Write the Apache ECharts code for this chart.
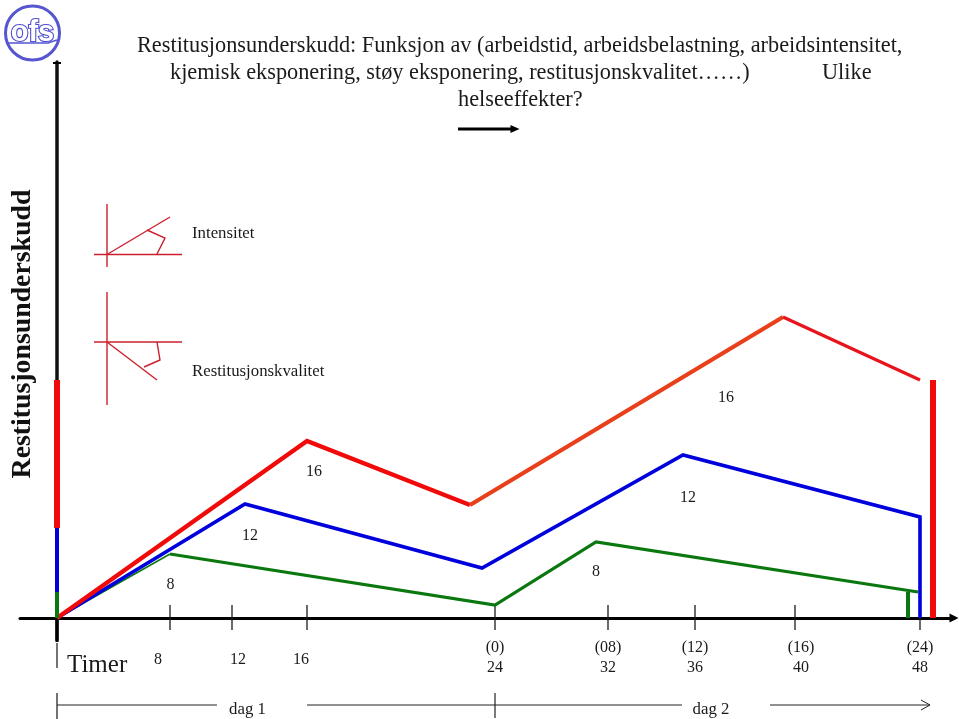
<!DOCTYPE html>
<html>
<head>
<meta charset="utf-8">
<style>html,body{margin:0;padding:0;background:#fff}#c{width:959px;height:719px}</style>
<script src="https://cdn.jsdelivr.net/npm/echarts@6/dist/echarts.min.js"></script>
</head>
<body>
<div id="c"></div>
<script>
// Schematic units: x along the time axis (not linear in hours), y = restitution deficit
const tickX = [113, 175, 250, 438, 551, 638, 738, 863];
const redX1 = [0, 250, 413];      const redY1 = [0, 177, 113];
const orangeX = [413, 726];       const orangeY = [113, 301];
const redX2 = [726, 863];         const redY2 = [301, 238];
const blueX = [0, 188, 425, 626, 863, 863];  const blueY = [0, 114, 50, 163, 101, 0];
const greenX1 = [0, 113];         const greenY1 = [0, 64];
const greenX2 = [113, 438, 539, 861];  const greenY2 = [64, 13, 76, 26];
const greenEndX = [851, 851];     const greenEndY = [26, 0];
const redEndX = [876, 876];       const redEndY = [238, 0];
const axisRedY = [238, 90];
const axisBlueY = [90, 26];
const axisGreenY = [26, 0];

const titleLines = [
  'Restitusjonsunderskudd: Funksjon av (arbeidstid, arbeidsbelastning, arbeidsintensitet,',
  'kjemisk eksponering, støy eksponering, restitusjonskvalitet……)',
  'Ulike',
  'helseeffekter?'
];
const yName = 'Restitusjonsunderskudd';
const xName = 'Timer';
const curveLabels = [[113.5, 35, '8'], [193, 84, '12'], [257, 148, '16'], [539, 48, '8'], [631, 122, '12'], [669, 222, '16']];
const hourLabels = [[101, -40, '8'], [181, -40, '12'], [244, -40, '16'],
  [438, -28, '(0)'], [438, -48, '24'], [551, -28, '(08)'], [551, -48, '32'],
  [638, -28, '(12)'], [638, -48, '36'], [744, -28, '(16)'], [744, -48, '40'],
  [863, -28, '(24)'], [863, -48, '48']];
const dayLabels = [[190.5, -90, 'dag 1'], [654, -90, 'dag 2']];
const iconLabels = [[135, 386, 'Intensitet'], [135, 248, 'Restitusjonskvalitet']];

function line(xs, ys, color, width, z, extra) {
  return Object.assign({
    type: 'line', data: xs.map((x, i) => [x, ys[i]]), showSymbol: false, symbol: 'none',
    clip: false, silent: true, animation: false, z: z || 3,
    lineStyle: { color: color, width: width, cap: 'butt', join: 'miter' }
  }, extra || {});
}
function texts(list, font, align) {
  return {
    type: 'custom', clip: false, silent: true, animation: false, z: 6,
    data: list.map(l => [l[0], l[1]]),
    renderItem: (p, api) => {
      const c = api.coord([api.value(0), api.value(1)]);
      return { type: 'text', x: c[0], y: c[1] + 1.5, style: {
        text: list[p.dataIndex][2], font: font, fill: '#1a1a1a',
        textAlign: align || 'center', textVerticalAlign: 'middle' } };
    }
  };
}
const ICON = '#cc1f2c', INK = '#1a1a1a';
const RED = '#f00a0a', ORANGE = '#e8401a', BLUE = '#0000dc', GREEN = '#0a780f';
const F = '"Liberation Serif", "Times New Roman", serif';

const series = [
  // angle icons
  line([50, 50], [414, 351], ICON, 1.4), line([37, 125], [363.5, 363.5], ICON, 1.4),
  line([50, 113], [363.5, 401], ICON, 1.4), line([90, 108, 100], [388, 380, 364], ICON, 1.4),
  line([50, 50], [326, 213], ICON, 1.4), line([37, 125], [276, 276], ICON, 1.4),
  line([50, 100], [276, 238], ICON, 1.4), line([100, 103, 87], [276, 258, 251], ICON, 1.4),
  // axis extras
  line([-4, 4], [555, 555], '#000', 2), line([0, 0], [0, -24], '#000', 3),
  line([0, 0], [-25, -50], '#444', 1.5),
  // day span lines
  line([0, 0], [-75, -101], '#444', 1.5), line([0, 160], [-87, -87], '#222', 1),
  line([250, 438], [-87, -87], '#222', 1), line([438, 438], [-75, -100], '#222', 1.2),
  line([438, 625], [-87, -87], '#222', 1), line([713, 873], [-87, -87], '#222', 1),
  line([864, 873, 864], [-82, -87, -92], '#222', 1),
  // bold arrow under the heading
  line([401, 458], [489, 489], '#000', 3),
  // axis ticks
  {
    type: 'custom', clip: false, silent: true, animation: false, z: 2,
    data: tickX.map(x => [x]),
    renderItem: (p, api) => {
      const x = api.value(0);
      const a = api.coord([x, 13]), b = api.coord([x, -12]);
      return { type: 'line', shape: { x1: a[0], y1: a[1], x2: b[0], y2: b[1] },
        style: { stroke: INK, lineWidth: 1.3 } };
    }
  },
  // curves
  line(greenX1, greenY1, GREEN, 1.5, 4), line(greenX2, greenY2, GREEN, 3.2, 4),
  line(greenEndX, greenEndY, GREEN, 4, 4),
  line(blueX, blueY, BLUE, 3.6, 5),
  line(redX1, redY1, RED, 4.4, 7), line(orangeX, orangeY, ORANGE, 4.2, 7),
  line(redX2, redY2, '#e8141c', 3.2, 7), line(redEndX, redEndY, RED, 6, 7),
  // coloured bars on the y axis
  line([0, 0], axisRedY, RED, 6, 8), line([0, 0], axisBlueY, BLUE, 4, 8), line([0, 0], axisGreenY, GREEN, 4, 8),
  texts(curveLabels, '16px ' + F), texts(hourLabels, '16px ' + F), texts(dayLabels, '16.8px ' + F),
  texts(iconLabels, '16.8px ' + F, 'left'),
  texts([[10, -46, xName]], '25px ' + F, 'left')
];
// head of the bold arrow
series.push({
  type: 'line', clip: false, silent: true, animation: false, z: 4,
  data: [{ value: [458, 489], symbol: 'triangle', symbolSize: [8, 9], symbolRotate: -90, itemStyle: { color: '#000' } }],
  showSymbol: true, lineStyle: { width: 0 }
});

const chart = echarts.init(document.getElementById('c'), null, { renderer: 'canvas' });
chart.setOption({
  animation: false,
  backgroundColor: '#fff',
  title: [
    { text: titleLines[0], left: 137, top: 35 },
    { text: titleLines[1], left: 170, top: 62 },
    { text: titleLines[2], left: 822, top: 62 },
    { text: titleLines[3], left: 458, top: 89 }
  ].map(t => Object.assign(t, { padding: 0, textStyle: { fontFamily: F, fontSize: 22.3, fontWeight: 'normal', color: '#1a1a1a', lineHeight: 22 } })),
  grid: { left: 20, top: 62, width: 934, height: 578, containLabel: false },
  xAxis: {
    type: 'value', min: -37, max: 897, splitLine: { show: false },
    axisLine: { onZero: true, symbol: ['none', 'triangle'], symbolSize: [9, 9], lineStyle: { color: '#000', width: 3 } },
    axisTick: { show: false }, axisLabel: { show: false }
  },
  yAxis: {
    type: 'value', min: -22, max: 556, splitLine: { show: false },
    axisLine: { onZero: true, lineStyle: { color: '#111', width: 3.5 } },
    axisTick: { show: false }, axisLabel: { show: false }
  },
  series: series,
  graphic: [
    { type: 'text', x: 22.5, y: 334, rotation: Math.PI / 2, z: 10, silent: true,
      style: { text: yName, font: 'bold 27.8px ' + F, fill: '#111', textAlign: 'center', textVerticalAlign: 'middle' } },
    { type: 'circle', shape: { cx: 32.5, cy: 33, r: 27 }, z: 10, silent: true,
      style: { fill: '#fff', stroke: '#5656d0', lineWidth: 3 } },
    { type: 'polyline', shape: { points: [[8, 43], [15, 43], [48, 43], [57, 40]] }, z: 10, silent: true,
      style: { fill: 'none', stroke: '#5656d0', lineWidth: 1.5 } },
    { type: 'text', x: 32.5, y: 33, z: 11, silent: true,
      style: { text: 'ofs', font: 'bold 29px "Liberation Sans", sans-serif', fill: '#fff', stroke: '#4e4ed0', lineWidth: 2.2, textAlign: 'center', textVerticalAlign: 'middle' } }
  ]
});
</script>
</body>
</html>
